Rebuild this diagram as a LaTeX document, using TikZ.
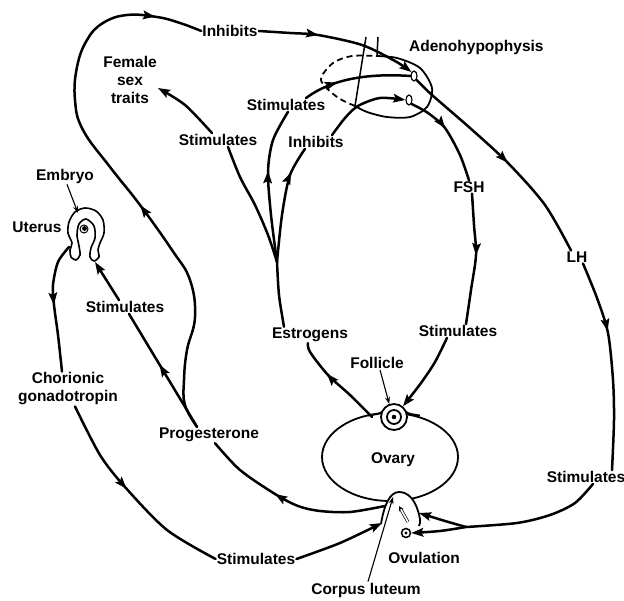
\documentclass[tikz,border=0pt]{standalone}
\usepackage{fontspec}
\setmainfont{Liberation Sans}
\usetikzlibrary{arrows.meta,decorations.markings,shapes.geometric}
\begin{document}
\begin{tikzpicture}[x=1pt,y=-1pt,
  lbl/.style={font=\fontsize{15.5}{18}\selectfont\bfseries, inner sep=1pt, align=center},
  link/.style={line width=2.5pt, line cap=round, line join=round},
  pointer/.style={line width=1.1pt, -{Stealth[length=7pt,width=5pt]}},
  outline/.style={line width=1.8pt},
  endarr/.style={-{Stealth[length=12pt,width=8.5pt,inset=2pt]}},
  marr/.style={postaction={decorate, decoration={markings,
      mark=at position #1 with {\arrow{Stealth[length=12pt,width=8.5pt,inset=2pt]}}}}},
  cell/.style={draw, ellipse, line width=1.2pt, fill=white, minimum width=6pt,
      minimum height=10pt, inner sep=0pt},
]
\useasboundingbox (0,0) rectangle (624,601);

% ---------- labels ----------
\node[lbl] (inhTop) at (230,31) {Inhibits};
\node[lbl, anchor=west] (adeno) at (408,47) {Adenohypophysis};
\node[lbl] (female) at (130,80) {Female\\sex\\traits};
\node[lbl] (stimFem) at (218,140) {Stimulates};
\node[lbl] (stimUp) at (286,105) {Stimulates};
\node[lbl] (inhMid) at (316,142) {Inhibits};
\node[lbl] (fsh) at (469,187) {FSH};
\node[lbl] (lh) at (577,257) {LH};
\node[lbl] (stimFSH) at (458,331) {Stimulates};
\node[lbl] (estrogens) at (310,335) {Estrogens};
\node[lbl] (follicleLbl) at (377,363) {Follicle};
\node[lbl] (stimLH) at (586,477) {Stimulates};
\node[lbl] (ovulLbl) at (424,558) {Ovulation};
\node[lbl] (corpusLbl) at (366,590) {Corpus luteum};
\node[lbl] (stimBot) at (256,559) {Stimulates};
\node[lbl] (prog) at (209,435) {Progesterone};
\node[lbl] (chorion) at (68,389) {Chorionic\\gonadotropin};
\node[lbl] (stimUt) at (125,307) {Stimulates};
\node[lbl] (uterusLbl) at (37,227) {Uterus};
\node[lbl] (embryoLbl) at (65,176) {Embryo};

% ---------- pituitary ----------
\draw[outline] plot[smooth] coordinates {(376,56) (397,58) (420,68) (432,88) (427,107) (410,117) (387,117) (367,112) (355,106)};
\draw[outline, dash pattern=on 6pt off 4pt] plot[smooth] coordinates {(355,106) (337,97) (321,80) (333,63) (352,56) (376,56)};
\draw[line width=1.5pt] (366,37) -- (355,106);
\draw[line width=1.5pt] (378,37) -- (377,55);
\node[cell] (cellA) at (414,76) {};
\node[cell] (cellB) at (409,100) {};

% ---------- ovary ----------
\node[draw, outline, ellipse, minimum width=136pt, minimum height=88pt, inner sep=0pt] (ovary) at (390,457) {};
\node[lbl] (ovaryLbl) at (393,460) {Ovary};
\draw[outline] (368,415.5) .. controls (375,414.5) and (379,414) .. (382,412);
\draw[outline] (406,412) .. controls (409,414) and (413,414.5) .. (420,415.5);
\node[draw, outline, circle, fill=white, minimum size=26pt, inner sep=0pt] (follicle) at (394,417) {};
\draw[outline] (follicle) circle (7);
\fill (follicle) circle (2.3);

% corpus luteum
\fill[white] (381,524) .. controls (384,505) and (390,492) .. (399,492) .. controls (409,492) and (415,501) .. (418,511) .. controls (420,517) and (421,522) .. (419,526) -- cycle;
\draw[outline] (381,524) .. controls (384,505) and (390,492) .. (399,492) .. controls (409,492) and (415,501) .. (418,511) .. controls (420,517) and (421,522) .. (419,526);
\draw[line width=0.7pt, double distance=1.6pt, -{Stealth[length=5pt,width=5pt]}] (408,522) -- (399,506);
\coordinate (clL) at (385,506);
\coordinate (clLb) at (382,523);
\coordinate (clR) at (419,513);
\coordinate (clTop) at (393,497);

% ovulation
\node[draw, circle, line width=1.5pt, minimum size=9pt, inner sep=0pt] (ovul) at (406,533) {};
\fill (ovul) circle (1.6);

% ---------- uterus ----------
\draw[line width=1.6pt] plot[smooth cycle] coordinates {(79,246) (80,255) (76,260) (71,257) (70,250) (72,243) (68,233) (69,222) (75,212) (85,208) (96,211) (103,220) (104,233) (100,243) (98,250) (99,257) (94,261) (90,257) (91,248) (95,238) (94,226) (86,219) (79,224) (77,235)};
\draw[line width=1pt] (84,229) circle (4);
\fill (84.5,228.5) circle (2.4);
\coordinate (utL) at (69,247);
\coordinate (utR) at (95,262);
\coordinate (embryoPt) at (78,213);
\coordinate (ej) at (277,262);
\coordinate (lhsplit) at (466,527);

% ---------- progesterone: inhibition loop ----------
\draw[link, marr=0.435, marr=0.913] plot[smooth, tension=0.7] coordinates {([xshift=-12pt]prog.north) (185,405) (184,380) (187,350) (195,317) (190,280) (172,250) (140,205) (110,167) (83,130) (75,100) (77,67) (87,40) (103,23) (127,15) (157,17) (180,23) (inhTop.west)};
\draw[link, endarr, marr=0.37] plot[smooth] coordinates {(inhTop.east) (290,33) (318,35) (362,45) (395,61) (cellA.north west)};

% ---------- LH ----------
\draw[link, marr=0.53] plot[smooth] coordinates {(cellA.south east) (432,95) (470,128) (508,163) (545,205) ([xshift=-6pt]lh.north)};
\draw[link, marr=0.34] plot[smooth] coordinates {([xshift=6pt]lh.south) (597,298) (608,333) (613,380) (614,420) ([xshift=26pt]stimLH.north)};
\draw[link] plot[smooth] coordinates {([xshift=7pt]stimLH.south) (575,503) (550,515) (517,523) (lhsplit)};
\draw[link, endarr] plot[smooth] coordinates {(lhsplit) (445,521) (clR)};
\draw[link, endarr] plot[smooth] coordinates {(lhsplit) (440,531) (ovul.east)};

% ---------- FSH ----------
\draw[link, marr=0.42] plot[smooth] coordinates {(cellB.south east) (428,113) (445,128) (460,155) (fsh.north)};
\draw[link, marr=0.47] plot[smooth] coordinates {([xshift=3pt]fsh.south) (474,225) (476,255) (471,290) ([xshift=8pt]stimFSH.north)};
\draw[link, endarr] plot[smooth] coordinates {([xshift=-11pt]stimFSH.south) (435,362) (421,383) (follicle.50)};

% ---------- estrogens ----------
\draw[link, marr=0.63] plot[smooth] coordinates {([xshift=-8pt]follicle.west) (350,395) (328,375) (310,352) ([xshift=-2pt]estrogens.south)};
\draw[link] plot[smooth] coordinates {([xshift=-26pt]estrogens.north) (279,295) (ej)};
\draw[link] plot[smooth] coordinates {(ej) (268,235) (255,205) (240,177) ([xshift=10pt]stimFem.south)};
\draw[link, endarr] plot[smooth] coordinates {([xshift=-6pt]stimFem.north) (185,105) ([yshift=-8pt]female.east)};
\draw[link, marr=0.59] plot[smooth] coordinates {(ej) (271,215) (268,172) (273,140) ([xshift=2pt]stimUp.south)};
\draw[link, marr=0.32] ([xshift=20pt]stimUp.north) .. controls (322,86) and (352,72) .. (cellA.west);
\draw[link, marr=0.77] plot[smooth] coordinates {(ej) (282,215) (290,175) ([xshift=-11pt]inhMid.south)};
\draw[link, endarr] plot[smooth] coordinates {([xshift=16pt]inhMid.north) (345,118) (358,106) (380,98) (cellB.west)};

% ---------- progesterone to uterus, corpus luteum to progesterone ----------
\draw[link, marr=0.55] ([xshift=-12pt]prog.north) -- ([xshift=4pt]stimUt.south);
\draw[link, endarr] ([xshift=-6pt]stimUt.north) -- (utR);
\draw[link, marr=0.59] plot[smooth] coordinates {(clL) (350,512) (320,511) (298,506) (275,494) (240,470) ([xshift=6pt]prog.south)};

% ---------- chorionic gonadotropin ----------
\draw[link, marr=0.48] plot[smooth] coordinates {(utL) (58,262) (53,285) (54,305) (58,335) ([xshift=-6pt]chorion.north)};
\draw[link, marr=0.46] plot[smooth] coordinates {([xshift=7pt]chorion.south) (100,455) (125,487) (167,530) (stimBot.west)};
\draw[link, endarr] plot[smooth] coordinates {(stimBot.east) (340,543) (clLb)};

% ---------- pointers ----------
\draw[pointer] ([xshift=3pt]follicleLbl.south) -- (follicle.110);
\draw[pointer] ([xshift=2pt]corpusLbl.north) -- (clTop);
\draw[pointer] ([xshift=2pt]embryoLbl.south) -- (embryoPt);
\end{tikzpicture}
\end{document}
